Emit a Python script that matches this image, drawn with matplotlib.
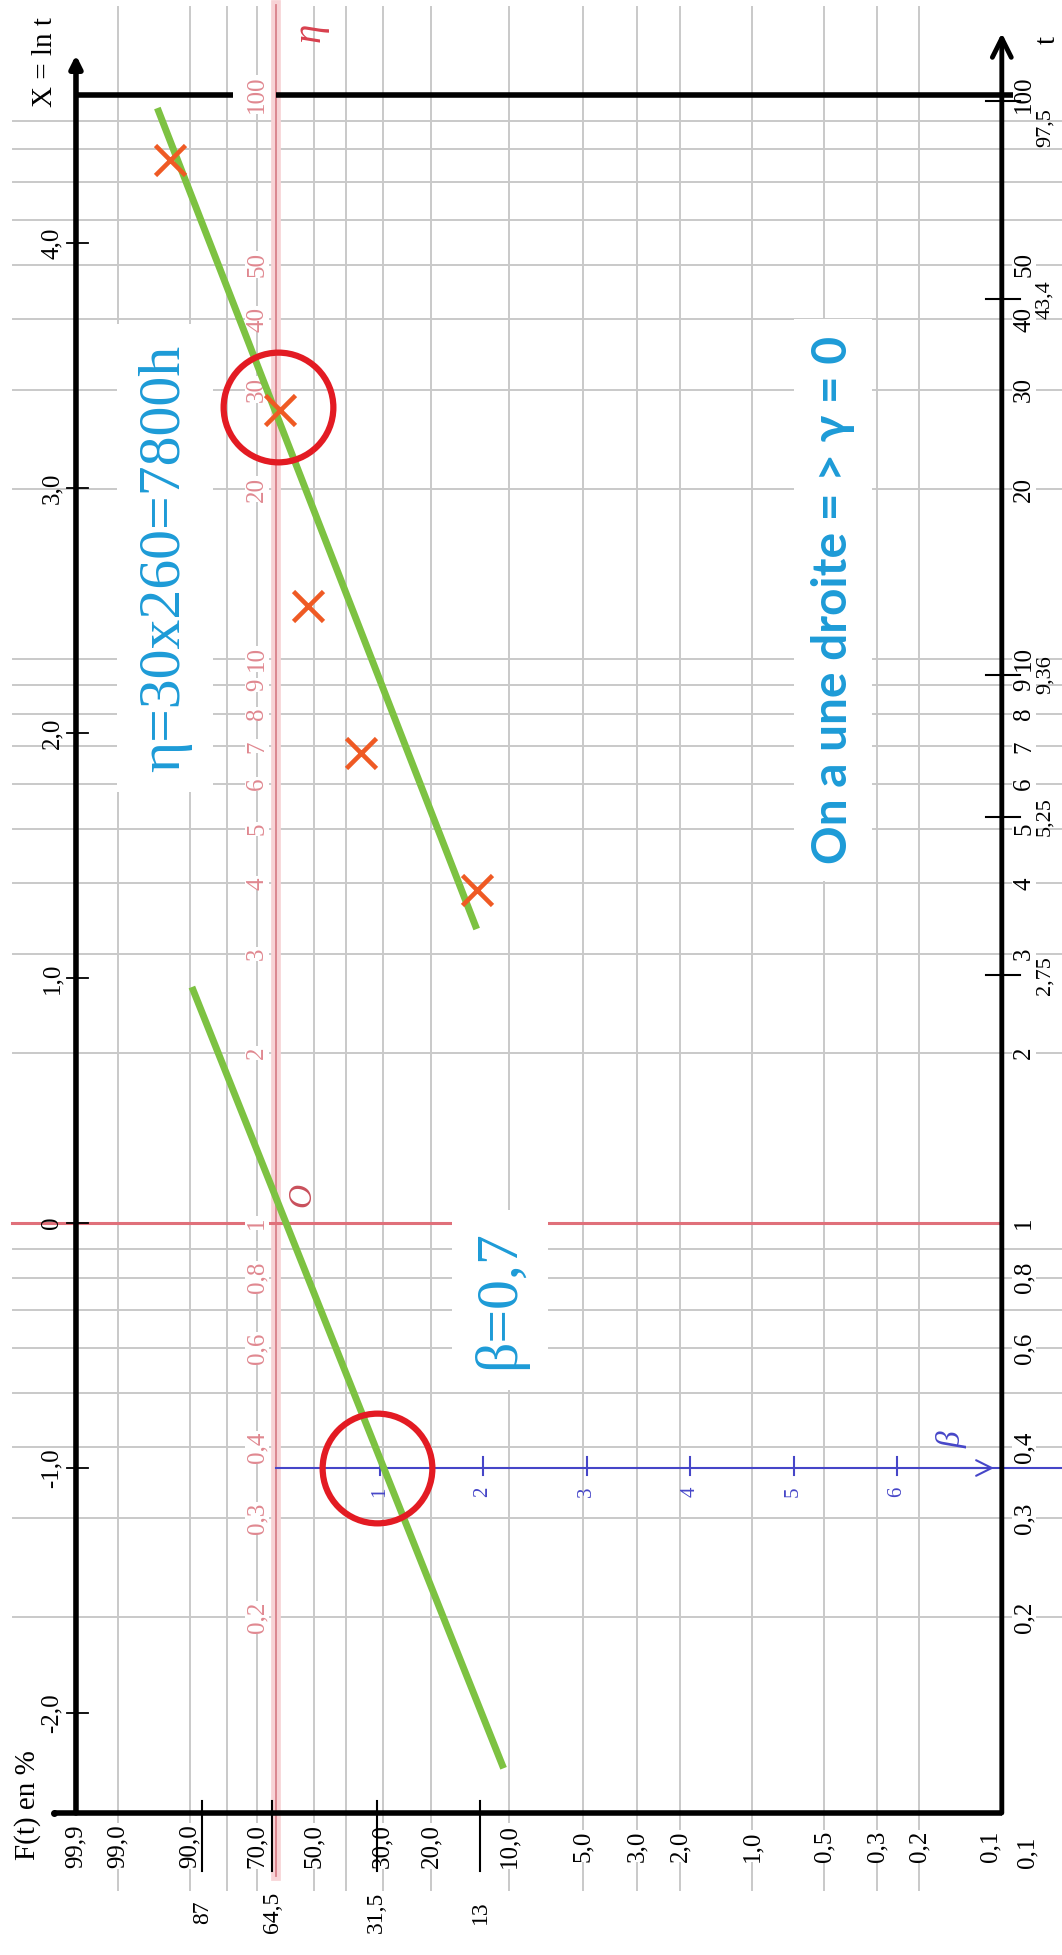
import numpy as np
import matplotlib.pyplot as plt

# Papier de Weibull tourné : F(t) en % sur l'horizontale, t (log) sur la verticale
W, H = 1062, 1955
Y0, YS = 276, 103.5    # pixel où Y = ln(-ln(1-F)) = 0, pixels par unité de Y
X0, XS = 1223, 245     # pixel où X = ln t = 0, pixels par unité de X

F_grille = [99, 90, 80, 70, 50, 40, 30, 20, 10, 5, 3, 2, 1, 0.5, 0.3, 0.2]
F_graduations = [99.9, 99, 90, 70, 50, 30, 20, 10, 5, 3, 2, 1, 0.5, 0.3, 0.2, 0.1]
F_textes = ['99,9', '99,0', '90,0', '70,0', '50,0', '30,0', '20,0', '10,0',
            '5,0', '3,0', '2,0', '1,0', '0,5', '0,3', '0,2', '0,1']
t_grille = [0.2, 0.3, 0.4, 0.5, 0.6, 0.7, 0.8, 0.9, 2, 3, 4, 5, 6, 7, 8, 9,
            10, 20, 30, 40, 50, 60, 70, 80, 90]
t_graduations = [0.2, 0.3, 0.4, 0.6, 0.8, 1, 2, 3, 4, 5, 6, 7, 8, 9, 10,
                 20, 30, 40, 50, 100]
t_textes = ['0,2', '0,3', '0,4', '0,6', '0,8', '1', '2', '3', '4', '5', '6',
            '7', '8', '9', '10', '20', '30', '40', '50', '100']
X_graduations = [-2, -1, 0, 1, 2, 3, 4]
X_textes = ['-2,0', '-1,0', '0', '1,0', '2,0', '3,0', '4,0']
beta_graduations = [1, 2, 3, 4, 5, 6]

# points relevés
t_points = [3.9, 6.8, 12.4, 27.6, 76.6]
F_points = [13.4, 35.6, 52.0, 61.8, 93.8]

# valeurs reportées sur les axes
t_reperes = [2.75, 5.25, 9.36, 43.4, 97.5]
t_reperes_txt = ['2,75', '5,25', '9,36', '43,4', '97,5']
F_reperes = [13, 31.5, 64.5, 87]
F_reperes_txt = ['13', '31,5', '64,5', '87']

# droite d'ajustement et sa parallèle passant par O
F_droite = [95.7, 13.4]
t_droite = [94.7, 3.32]
F_parallele = [89.5, 10.5]
t_parallele = [2.62, 0.108]

# lectures entourées : beta sur l'axe beta, eta sur la droite F = 63,2 %
F_cercles = [31.5, 62.5]
t_cercles = [0.368, 28.0]

F_eta = 100 * (1 - np.exp(-1))
t_beta = np.exp(-1)
F_bord, t_bord = 0.09, 0.09


def weib(F):
    F = np.clip(np.asarray(F, dtype=float), 1e-12, 100 - 1e-9)
    return np.log(-np.log(1 - F / 100))


def weib_inv(Y):
    return 100 * (1 - np.exp(-np.exp(np.asarray(Y, dtype=float))))


def F_at(px):
    return weib_inv((Y0 - px) / YS)


def t_at(py):
    return np.exp((X0 - py) / XS)


plt.rcParams['font.family'] = ['Liberation Serif', 'DejaVu Serif']

fig = plt.figure(figsize=(W / 100, H / 100), dpi=100)
ax = fig.add_axes([0, 0, 1, 1])
ax.set_xscale('function', functions=(weib, weib_inv))
ax.set_yscale('log')

gris = '#c9c9c9'
rouge_pale = '#e08890'
bleu = '#4646c8'
cyan = '#1d9bd7'
blanc = dict(facecolor='white', edgecolor='none', pad=0.5)

# grille
for F in F_grille:
    ax.plot([F, F], [t_at(7), t_at(1890)], color=gris, lw=1.4, zorder=1)
for t in t_grille:
    ax.plot([F_at(13), F_at(W)], [t, t], color=gris, lw=1.4, zorder=1)

# droite eta (F = 63,2 %) et droite X = 0
ax.plot([F_eta, F_eta], [t_at(5), t_at(1876)], color='#f7d3d6', lw=7, zorder=2)
ax.plot([F_eta, F_eta], [t_at(5), t_at(1876)], color='#d9808a', lw=1.3, zorder=2)
ax.plot([F_at(12), F_bord], [1, 1], color='#e0707a', lw=2.2, zorder=2)

# axe beta
ax.plot([F_eta, F_at(W)], [t_beta, t_beta], color=bleu, lw=1.5, zorder=2)
ax.annotate('', xy=(F_at(994), t_beta), xytext=(F_at(960), t_beta),
            arrowprops=dict(arrowstyle='->', color=bleu, lw=1.5,
                            mutation_scale=28, shrinkA=0, shrinkB=0), zorder=2)
for b in beta_graduations:
    Fb = weib_inv(-b)
    ax.plot([Fb, Fb], [t_at(1457), t_at(1475)], color=bleu, lw=1.5, zorder=2)
    ax.text(Fb, t_at(1492), str(b), rotation=90, ha='center', va='center',
            fontsize=15, color=bleu, zorder=3)
ax.text(F_at(952), t_at(1440), 'β', rotation=90, ha='center', va='center',
        fontsize=24, style='italic', color=bleu, zorder=3)

# graduations rouges de t le long de la droite eta
for t, s in zip(t_graduations, t_textes):
    ax.text(F_at(257), t, s, rotation=90, ha='center', va='center',
            fontsize=18, color=rouge_pale, bbox=blanc, zorder=3)
ax.text(F_at(310), t_at(32), 'η', rotation=90, ha='center', va='center',
        fontsize=28, style='italic', color='#d8404e', zorder=3)
ax.text(F_at(302), t_at(1195), 'O', rotation=90, ha='center', va='center',
        fontsize=24, style='italic', color='#c9505c', zorder=3)

# cadre : axes F (bas), X = ln t (gauche), t (droite)
k = dict(color='black', lw=4, zorder=4, solid_capstyle='butt')
ax.plot([99.9, F_at(233)], [100, 100], **k)
ax.plot([F_eta, F_at(1013)], [100, 100], **k)
ax.plot([F_at(54), F_bord], [t_bord, t_bord], **k)
ax.plot([F_at(54)], [t_bord], 'o', color='black', ms=4, zorder=4)
ax.annotate('', xy=(99.9, t_at(55)), xytext=(99.9, t_bord),
            arrowprops=dict(arrowstyle='-|>', color='black', lw=4,
                            mutation_scale=18, shrinkA=0, shrinkB=0), zorder=4)
ax.annotate('', xy=(F_bord, t_at(33)), xytext=(F_bord, t_bord),
            arrowprops=dict(arrowstyle='->', color='black', lw=3.5,
                            mutation_scale=34, shrinkA=0, shrinkB=0), zorder=4)

# axe X = ln t
for X, s in zip(X_graduations, X_textes):
    tx = np.exp(X)
    ax.plot([F_at(67), F_at(88)], [tx, tx], color='black', lw=1.3, zorder=4)
    ax.text(F_at(52), tx, s, rotation=90, ha='center', va='center',
            fontsize=18, zorder=3)
ax.text(F_at(45), t_at(62), 'X = ln t', rotation=90, ha='center', va='center',
        fontsize=21, zorder=3)
ax.text(F_at(28), t_at(1805), 'F(t) en %', rotation=90, ha='center',
        va='center', fontsize=21, zorder=3)

# axe F en %
for F, s in zip(F_graduations, F_textes):
    ax.text(F, t_at(1846), s, rotation=90, ha='center', va='center',
            fontsize=18, bbox=blanc, zorder=3)
for F, s in zip(F_reperes, F_reperes_txt):
    ax.plot([F, F], [t_at(1801), t_at(1871)], color='black', lw=1.5, zorder=4)
    ax.text(F, t_at(1912), s, rotation=90, ha='center', va='center',
            fontsize=17, zorder=3)

# axe t
for t, s in zip(t_graduations, t_textes):
    ax.text(F_at(1024), t, s, rotation=90, ha='center', va='center',
            fontsize=18, bbox=blanc, zorder=3)
ax.text(F_at(1027), t_at(1852), '0,1', rotation=90, ha='center', va='center',
        fontsize=18, zorder=3)
ax.text(F_at(1048), t_at(40), 't', rotation=90, ha='center', va='center',
        fontsize=21, zorder=3)
for t, s in zip(t_reperes, t_reperes_txt):
    ax.plot([F_at(986), F_at(1020)], [t, t], color='black', lw=1.5, zorder=4)
    ax.text(F_at(1045), t * (0.97 if t > 90 else 1), s, rotation=90,
            ha='center', va='top' if t > 90 else 'center', fontsize=16,
            zorder=3)

# ajustement
ax.plot(F_droite, t_droite, color='#7dc242', lw=5, zorder=5,
        solid_capstyle='butt')
ax.plot(F_parallele, t_parallele, color='#7dc242', lw=5, zorder=5,
        solid_capstyle='butt')
ax.plot(F_points, t_points, 'x', ms=22, mew=3.3, color='#ef5a24', zorder=6)
ax.plot(F_cercles, t_cercles, 'o', ms=79, mfc='none', mec='#e31b23',
        mew=4.5, zorder=7)

# commentaires
boite = dict(boxstyle='square,pad=0.35', facecolor='white', edgecolor='none')
ax.text(F_at(165), t_at(558), 'η=30x260=7800h', rotation=90,
        ha='center', va='center', fontsize=43, color=cyan, bbox=boite,
        zorder=3)
ax.text(F_at(500), t_at(1300), 'β=0,7', rotation=90, ha='center',
        va='center', fontsize=43, color=cyan, bbox=boite, zorder=3)
ax.text(F_at(833), t_at(600), 'On a une droite = > γ = 0', rotation=90,
        ha='center', va='center', fontsize=34.5, color=cyan, bbox=boite,
        family=['Lato', 'DejaVu Sans'], weight='bold', zorder=3)

ax.set_xlim(F_at(0), F_at(W))
ax.set_ylim(t_at(H), t_at(0))
ax.axis('off')
fig.savefig('out.png', dpi=100)
